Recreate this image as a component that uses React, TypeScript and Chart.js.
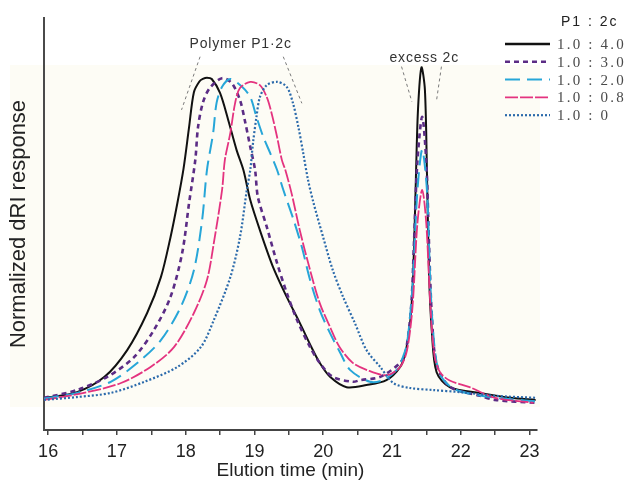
import { useEffect, useRef } from 'react';
import { Chart, registerables } from 'chart.js';

Chart.register(...registerables);

// ---- data (elution time in min, normalized response in %) ----
const blackT = [15.94, 16.42, 16.82, 17.15, 17.44, 17.64, 17.78, 17.88, 17.97, 18.05, 18.12, 18.2, 18.25, 18.31, 18.38, 18.5, 18.62, 18.74, 18.84, 18.94, 19.08, 19.27, 19.47, 19.66, 19.83, 19.95, 20.1, 20.34, 20.63, 20.92, 21.12, 21.2, 21.27, 21.31, 21.35, 21.38, 21.43, 21.48, 21.51, 21.54, 21.58, 21.65, 21.84, 22.28, 22.72, 23.09];
const blackV = [7.8, 9.2, 12.9, 19.4, 28.4, 37.1, 46.8, 55.1, 63.5, 73.5, 82.0, 84.6, 85.2, 85.5, 85.2, 81.8, 75.2, 68.0, 63.1, 55.8, 48.5, 39.6, 32.3, 26.0, 20.1, 16.3, 12.9, 10.4, 10.9, 12.1, 15.3, 19.0, 27.0, 38.0, 62.0, 78.0, 88.0, 82.5, 62.0, 38.0, 24.0, 14.0, 10.4, 9.0, 7.8, 7.3];

const purpleT = [15.94, 16.42, 16.86, 17.25, 17.54, 17.78, 17.95, 18.05, 18.14, 18.18, 18.25, 18.35, 18.53, 18.67, 18.79, 18.86, 18.94, 19.01, 19.05, 19.18, 19.33, 19.47, 19.62, 19.81, 19.95, 20.14, 20.43, 20.54, 20.83, 21.12, 21.2, 21.28, 21.32, 21.37, 21.44, 21.5, 21.54, 21.58, 21.65, 21.84, 22.28, 22.5, 23.08];
const purpleV = [7.8, 9.7, 12.9, 17.7, 24.3, 32.3, 43.0, 55.1, 65.5, 73.5, 79.4, 83.0, 85.4, 84.2, 80.1, 75.2, 68.7, 63.1, 56.6, 49.3, 40.5, 33.3, 26.7, 20.1, 16.3, 12.9, 11.7, 12.1, 12.9, 16.3, 19.0, 30.0, 45.0, 65.0, 76.0, 65.0, 45.0, 28.0, 16.0, 10.5, 8.3, 7.3, 6.6];

const cyanT = [15.94, 16.42, 16.91, 17.3, 17.64, 17.93, 18.12, 18.24, 18.31, 18.4, 18.45, 18.53, 18.65, 18.82, 18.94, 19.03, 19.13, 19.23, 19.33, 19.42, 19.57, 19.69, 19.81, 19.95, 20.1, 20.25, 20.39, 20.68, 20.87, 21.07, 21.16, 21.22, 21.3, 21.37, 21.44, 21.51, 21.56, 21.62, 21.7, 21.9, 22.3, 22.7, 23.08];
const cyanV = [7.6, 9.0, 11.7, 16.3, 21.8, 29.9, 38.8, 51.0, 63.1, 72.1, 79.4, 83.3, 85.2, 83.3, 80.8, 76.0, 71.1, 67.2, 63.1, 58.3, 51.0, 44.4, 36.4, 29.1, 23.5, 18.7, 14.6, 11.7, 12.1, 14.6, 17.7, 21.0, 35.0, 58.0, 68.0, 58.0, 35.0, 20.0, 13.5, 10.0, 8.3, 7.5, 7.0];

const pinkT = [15.94, 16.52, 17.06, 17.49, 17.83, 18.12, 18.31, 18.41, 18.53, 18.57, 18.65, 18.72, 18.79, 18.94, 19.08, 19.18, 19.25, 19.33, 19.4, 19.45, 19.54, 19.66, 19.81, 19.95, 20.1, 20.24, 20.43, 20.63, 20.92, 21.12, 21.22, 21.3, 21.37, 21.44, 21.5, 21.56, 21.62, 21.7, 21.84, 22.13, 22.5, 23.06];
const pinkV = [7.3, 9.0, 11.4, 15.3, 20.1, 28.4, 36.4, 45.4, 58.3, 65.5, 72.1, 79.4, 83.0, 84.5, 83.7, 80.8, 76.9, 71.1, 65.5, 63.1, 57.5, 48.5, 38.8, 30.8, 25.0, 20.1, 16.3, 14.6, 13.3, 15.3, 19.4, 30.0, 50.0, 58.3, 50.0, 30.0, 18.0, 14.0, 12.0, 10.4, 7.8, 6.6];

const blueT = [15.94, 16.42, 16.91, 17.4, 17.88, 18.22, 18.41, 18.65, 18.79, 18.89, 18.94, 18.98, 19.03, 19.08, 19.18, 19.33, 19.47, 19.56, 19.64, 19.71, 19.78, 19.86, 20.0, 20.14, 20.29, 20.46, 20.63, 20.83, 21.02, 21.26, 21.6, 21.99, 22.5, 23.11];
const blueV = [7.3, 8.0, 9.0, 11.7, 15.3, 20.1, 26.7, 37.1, 46.8, 58.3, 63.1, 69.7, 76.0, 80.8, 83.7, 84.5, 83.3, 79.4, 73.5, 67.2, 60.7, 55.1, 46.8, 38.8, 32.3, 26.0, 19.4, 15.3, 11.4, 10.2, 9.7, 9.2, 8.3, 7.8];

const seriesLabels = ['1.0 : 4.0', '1.0 : 3.0', '1.0 : 2.0', '1.0 : 0.8', '1.0 : 0'];
const legendTitle = 'P1 : 2c';
const xTickValues = [16, 16.5, 17, 17.5, 18, 18.5, 19, 19.5, 20, 20.5, 21, 21.5, 22, 22.5, 23];
const xTitle = 'Elution time (min)';
const yTitle = 'Normalized dRI response';

// annotations (data coordinates)
const polymerLabel = 'Polymer P1·2c';
const polymerAnchor = [18.8, 93.7];
const polymerGuides = [[18.21, 90.6, 17.94, 77.7], [19.42, 90.6, 19.69, 79.3]];
const excessLabel = 'excess 2c';
const excessAnchor = [21.47, 90.2];
const excessGuides = [[21.14, 88.2, 21.29, 79.7], [21.72, 88.2, 21.65, 80.1]];

const SANS = '"Liberation Sans", Arial, sans-serif';
const SERIF = '"Liberation Serif", "Times New Roman", serif';

const pts = (t: number[], v: number[]) => t.map((x, i) => ({ x, y: v[i] }));

export default function App() {
  const ref = useRef<HTMLCanvasElement>(null);

  useEffect(() => {
    document.body.style.margin = '0';
    const canvas = ref.current!;

    const decor = {
      id: 'decor',
      beforeDraw(chart: any) {
        const ctx = chart.ctx;
        ctx.save();
        ctx.fillStyle = '#fdfcf5';
        ctx.fillRect(10, 65, 530, 342);
        ctx.restore();
      },
      afterDraw(chart: any) {
        const ctx = chart.ctx;
        const xs = chart.scales.x;
        const ys = chart.scales.y;
        const px = (v: number) => xs.getPixelForValue(v);
        const py = (v: number) => ys.getPixelForValue(v);
        ctx.save();
        // guide lines
        ctx.strokeStyle = '#7a7a7a';
        ctx.lineWidth = 1;
        ctx.setLineDash([3, 3]);
        [...polymerGuides, ...excessGuides].forEach((g) => {
          ctx.beginPath();
          ctx.moveTo(px(g[0]), py(g[1]));
          ctx.lineTo(px(g[2]), py(g[3]));
          ctx.stroke();
        });
        ctx.setLineDash([]);
        // annotation labels
        ctx.fillStyle = '#333';
        ctx.font = `14px ${SANS}`;
        ctx.textAlign = 'center';
        ctx.textBaseline = 'middle';
        (ctx as any).letterSpacing = '0.8px';
        ctx.fillText(polymerLabel, px(polymerAnchor[0]), py(polymerAnchor[1]));
        ctx.fillText(excessLabel, px(excessAnchor[0]), py(excessAnchor[1]));

        // legend
        ctx.textAlign = 'left';
        (ctx as any).letterSpacing = '2px';
        ctx.fillStyle = '#222';
        ctx.font = `14px ${SANS}`;
        ctx.fillText(legendTitle, 561, 22);
        (ctx as any).letterSpacing = '2.2px';
        ctx.font = `15px ${SERIF}`;
        chart.data.datasets.forEach((ds: any, i: number) => {
          const y = 44 + i * 17.8;
          ctx.strokeStyle = ds.borderColor;
          ctx.lineWidth = i === 0 ? 2.5 : ds.borderWidth;
          ctx.setLineDash(ds.borderDash || []);
          ctx.beginPath();
          ctx.moveTo(505, y);
          ctx.lineTo(550, y);
          ctx.stroke();
          ctx.setLineDash([]);
          ctx.fillStyle = '#4a4a4a';
          ctx.fillText(ds.label, 557, y + 1);
        });
        (ctx as any).letterSpacing = '0px';
        ctx.restore();
      },
    };

    const common = { pointRadius: 0, fill: false, tension: 0.3 };

    const chart = new Chart(canvas, {
      type: 'line',
      data: {
        datasets: [
          { ...common, label: seriesLabels[0], data: pts(blackT, blackV), borderColor: '#111111', borderWidth: 2, borderDash: [], order: 5 },
          { ...common, label: seriesLabels[1], data: pts(purpleT, purpleV), borderColor: '#5b2c85', borderWidth: 2.6, borderDash: [5, 4], order: 4 },
          { ...common, label: seriesLabels[2], data: pts(cyanT, cyanV), borderColor: '#27a6d8', borderWidth: 2, borderDash: [15, 7], order: 3 },
          { ...common, label: seriesLabels[3], data: pts(pinkT, pinkV), borderColor: '#e4337f', borderWidth: 1.8, borderDash: [13, 2], order: 2 },
          { ...common, label: seriesLabels[4], data: pts(blueT, blueV), borderColor: '#2b6aab', borderWidth: 2.2, borderDash: [2, 2], order: 1 },
        ],
      },
      options: {
        responsive: false,
        animation: false,
        devicePixelRatio: 1,
        layout: { padding: { top: 18, right: 91, left: 0, bottom: 0 } },
        plugins: { legend: { display: false }, tooltip: { enabled: false } },
        scales: {
          x: {
            type: 'linear',
            min: 15.94,
            max: 23.11,
            afterBuildTicks: (s: any) => {
              s.ticks = xTickValues.map((v) => ({ value: v }));
            },
            afterFit: (s: any) => {
              s.height = 52;
            },
            grid: { display: true, drawOnChartArea: false, drawTicks: true, tickLength: 5, color: '#444', lineWidth: 1.5 },
            border: { display: true, color: '#444', width: 2 },
            ticks: {
              autoSkip: false,
              maxRotation: 0,
              padding: 6,
              color: '#222',
              font: { family: SANS, size: 18 },
              callback: (v: any) => (Number.isInteger(Number(v)) ? String(v) : ''),
            },
            title: { display: true, text: xTitle, color: '#222', font: { family: SANS, size: 19 }, padding: { top: 0, bottom: 0 } },
          },
          y: {
            min: 0,
            max: 100,
            afterFit: (s: any) => {
              s.width = 44;
            },
            grid: { display: false },
            border: { display: true, color: '#4a4a4a', width: 2 },
            ticks: { display: false },
            title: { display: true, text: yTitle, color: '#222', font: { family: SANS, size: 22 }, padding: { top: 6, bottom: 0 } },
          },
        },
      },
      plugins: [decor],
    });

    return () => chart.destroy();
  }, []);

  return (
    <div style={{ width: 628, height: 482 }}>
      <canvas ref={ref} width={628} height={482} style={{ display: 'block' }} />
    </div>
  );
}
